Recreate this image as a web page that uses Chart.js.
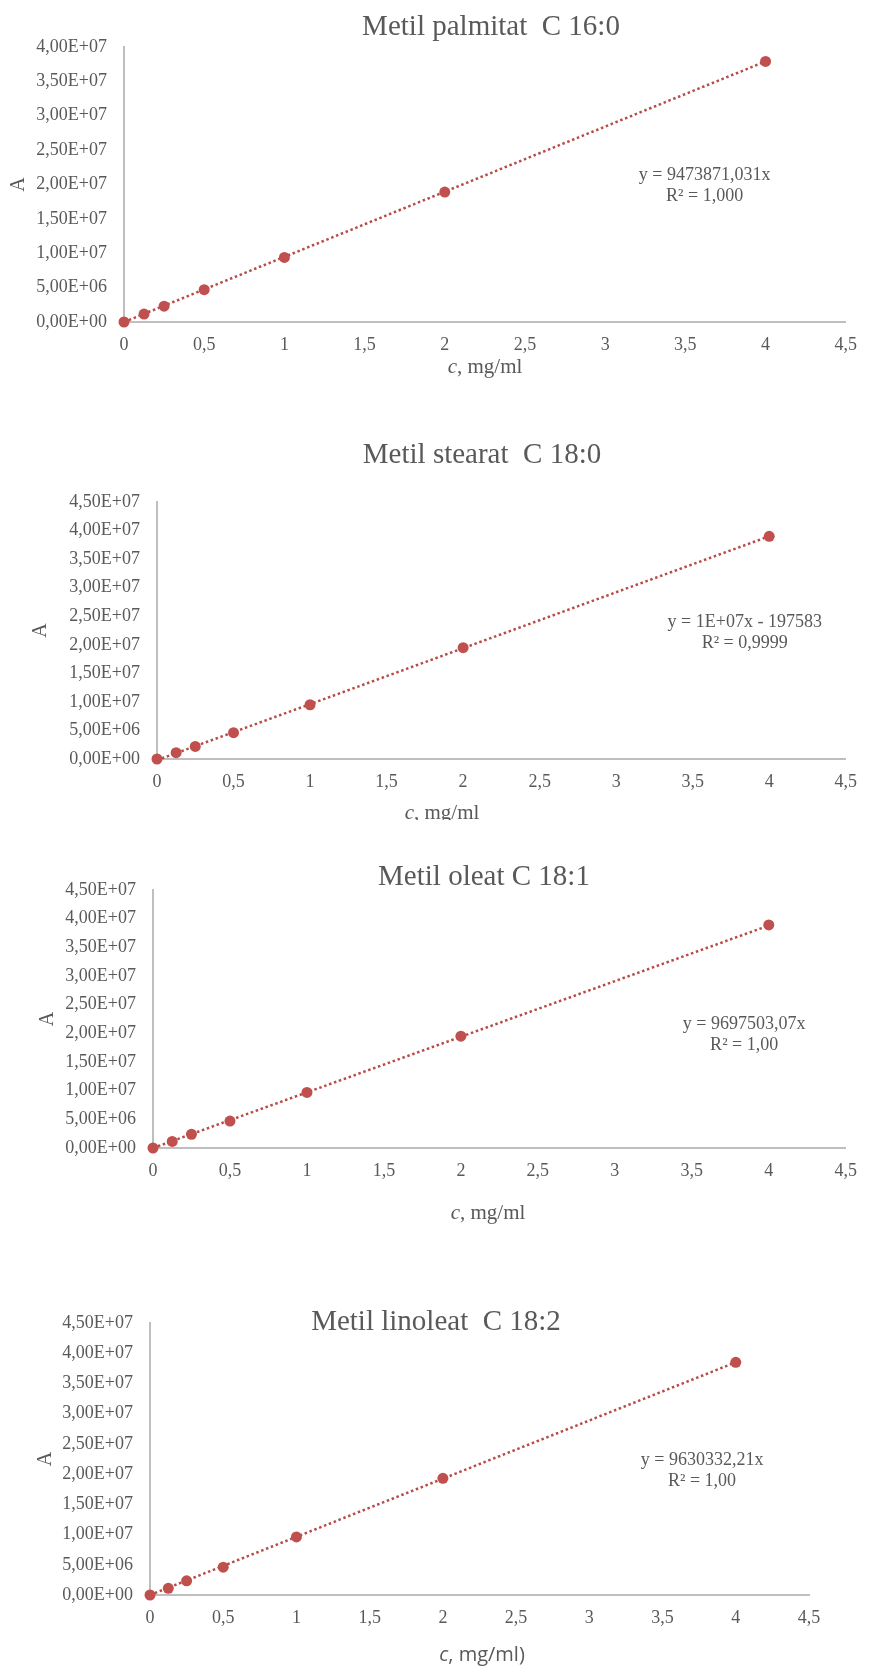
<!DOCTYPE html>
<html lang="hr">
<head>
<meta charset="UTF-8">
<title>Metil esteri - kalibracija</title>
<style>
  body { margin: 0; background: #fff; }
  .box { position: absolute; left: 0; }
</style>
</head>
<body>
<div class="box" style="top:0px"><canvas id="c1" width="869" height="400"></canvas></div>
<div class="box" style="top:400px"><canvas id="c2" width="869" height="420"></canvas></div>
<div class="box" style="top:820px"><canvas id="c3" width="869" height="420"></canvas></div>
<div class="box" style="top:1240px"><canvas id="c4" width="869" height="428"></canvas></div>

<script src="https://cdn.jsdelivr.net/npm/chart.js"></script>
<script>
// --- data ---
const concentrations = [0, 0.125, 0.25, 0.5, 1, 2, 4];
const palmitatA = [0, 1.15e6, 2.3e6, 4.7e6, 9.4e6, 1.89e7, 3.79e7];
const stearatA  = [0, 1.1e6, 2.2e6, 4.6e6, 9.5e6, 1.95e7, 3.9e7];
const oleatA    = [0, 1.15e6, 2.4e6, 4.7e6, 9.7e6, 1.95e7, 3.89e7];
const linoleatA = [0, 1.1e6, 2.35e6, 4.6e6, 9.6e6, 1.93e7, 3.85e7];

// trend lines (dotted), end points
const trendX = [0, 4];
const trendPalmitat = [0, 3.79e7];
const trendStearat  = [-1.98e5, 3.9e7];
const trendOleat    = [0, 3.88e7];
const trendLinoleat = [0, 3.85e7];

const titles = ['Metil palmitat  C 16:0', 'Metil stearat  C 18:0', 'Metil oleat C 18:1', 'Metil linoleat  C 18:2'];
const equations = [
  ['y = 9473871,031x', 'R² = 1,000'],
  ['y = 1E+07x - 197583', 'R² = 0,9999'],
  ['y = 9697503,07x', 'R² = 1,00'],
  ['y = 9630332,21x', 'R² = 1,00']
];
const xTitles = [', mg/ml', ', mg/ml', ', mg/ml', ', mg/ml)'];
const yTitle = 'A';
const xMax = 4.5, xStep = 0.5;
const yMaxes = [4e7, 4.5e7, 4.5e7, 4.5e7];
const yStep = 5e6;

// --- layout / style per chart ---
const GRAY = '#595959';
const RED = '#C0504D';
const SERIF = '"Liberation Serif", "Times New Roman", serif';
const SANS = '"Open Sans", "Liberation Sans", sans-serif';

const layouts = [
  { id: 'c1', h: 400, area: { l: 124, r: 855, t: 47, b: 322 }, titleAt: [491, 27], eqAt: [3.62, 1.99e7], xTitleAt: [485, 367], yPad: 7, xFont: SERIF },
  { id: 'c2', h: 420, area: { l: 157, r: 855, t: 102, b: 359 }, titleAt: [482, 55], eqAt: [3.84, 2.22e7], xTitleAt: [442, 413], yPad: 29, xFont: SERIF },
  { id: 'c3', h: 420, area: { l: 153, r: 855, t: 70, b: 328 }, titleAt: [484, 57], eqAt: [3.84, 1.99e7], xTitleAt: [488, 393], yPad: 36, xFont: SERIF },
  { id: 'c4', h: 428, area: { l: 150, r: 809, t: 83, b: 355 }, titleAt: [436, 82], eqAt: [3.77, 2.07e7], xTitleAt: [482, 415], yPad: 34, xFont: SANS }
];

const series = [palmitatA, stearatA, oleatA, linoleatA];
const trends = [trendPalmitat, trendStearat, trendOleat, trendLinoleat];

// 4,00E+07 style labels
function sci(v) {
  if (v === 0) return '0,00E+00';
  const e = Math.floor(Math.log10(Math.abs(v)) + 1e-9);
  const m = (v / Math.pow(10, e)).toFixed(2).replace('.', ',');
  return m + 'E' + (e < 0 ? '-' : '+') + String(Math.abs(e)).padStart(2, '0');
}

const extraText = {
  id: 'extraText',
  afterDraw(chart, args, o) {
    const ctx = chart.ctx;
    const xs = chart.scales.x, ys = chart.scales.y;
    ctx.save();
    ctx.fillStyle = GRAY;
    ctx.textAlign = 'center';
    ctx.textBaseline = 'middle';

    ctx.font = '29px ' + SERIF;
    ctx.fillText(o.title, o.titleAt[0], o.titleAt[1]);

    ctx.font = '18px ' + SERIF;
    const ex = xs.getPixelForValue(o.eqAt[0]);
    const ey = ys.getPixelForValue(o.eqAt[1]);
    ctx.fillText(o.equation[0], ex, ey - 10);
    ctx.fillText(o.equation[1], ex, ey + 11);

    // x axis title, "c" in italic
    const size = o.xFont === SANS ? 20 : 21;
    ctx.font = 'italic ' + size + 'px ' + o.xFont;
    const w1 = ctx.measureText('c').width;
    ctx.font = size + 'px ' + o.xFont;
    const w2 = ctx.measureText(o.xTitle).width;
    const sx = o.xTitleAt[0] - (w1 + w2) / 2;
    ctx.textAlign = 'left';
    ctx.font = 'italic ' + size + 'px ' + o.xFont;
    ctx.fillText('c', sx, o.xTitleAt[1]);
    ctx.font = size + 'px ' + o.xFont;
    ctx.fillText(o.xTitle, sx + w1, o.xTitleAt[1]);
    ctx.restore();
  }
};

layouts.forEach((L, i) => {
  const pts = concentrations.map((c, k) => ({ x: c, y: series[i][k] }));
  const tr = trendX.map((c, k) => ({ x: c, y: trends[i][k] }));

  new Chart(document.getElementById(L.id), {
    type: 'scatter',
    data: {
      datasets: [
        {
          data: pts,
          backgroundColor: RED,
          borderColor: RED,
          pointRadius: 5.5,
          pointBorderWidth: 0,
          clip: false
        },
        {
          type: 'line',
          data: tr,
          borderColor: '#B84A47',
          borderWidth: 2.5,
          borderDash: [2.5, 2.7],
          pointRadius: 0,
          fill: false,
          clip: false
        }
      ]
    },
    options: {
      responsive: false,
      animation: false,
      events: [],
      layout: { padding: { left: 0, top: L.area.t, right: 869 - L.area.r, bottom: 0 } },
      plugins: {
        legend: { display: false },
        title: { display: false },
        tooltip: { enabled: false },
        extraText: {
          title: titles[i],
          titleAt: L.titleAt,
          equation: equations[i],
          eqAt: L.eqAt,
          xTitle: xTitles[i],
          xTitleAt: L.xTitleAt,
          xFont: L.xFont
        }
      },
      scales: {
        x: {
          type: 'linear',
          min: 0,
          max: xMax,
          grid: { display: false, drawTicks: false },
          border: { display: true, color: '#BFBFBF', width: 2 },
          ticks: {
            stepSize: xStep,
            autoSkip: false,
            maxRotation: 0,
            padding: 12,
            color: GRAY,
            font: { family: SERIF, size: 18 },
            callback: v => String(v).replace('.', ',')
          },
          afterFit: s => { s.height = L.h - L.area.b; }
        },
        y: {
          type: 'linear',
          min: 0,
          max: yMaxes[i],
          grid: { display: false, drawTicks: false },
          border: { display: true, color: '#BFBFBF', width: 2 },
          title: {
            display: true,
            text: yTitle,
            color: GRAY,
            font: { family: SERIF, size: 20 },
            padding: { top: L.yPad, bottom: 0 }
          },
          ticks: {
            stepSize: yStep,
            autoSkip: false,
            padding: 17,
            color: GRAY,
            font: { family: SERIF, size: 18 },
            callback: v => sci(v)
          },
          afterFit: s => { s.width = L.area.l; }
        }
      }
    },
    plugins: [extraText]
  });
});
</script>
</body>
</html>
